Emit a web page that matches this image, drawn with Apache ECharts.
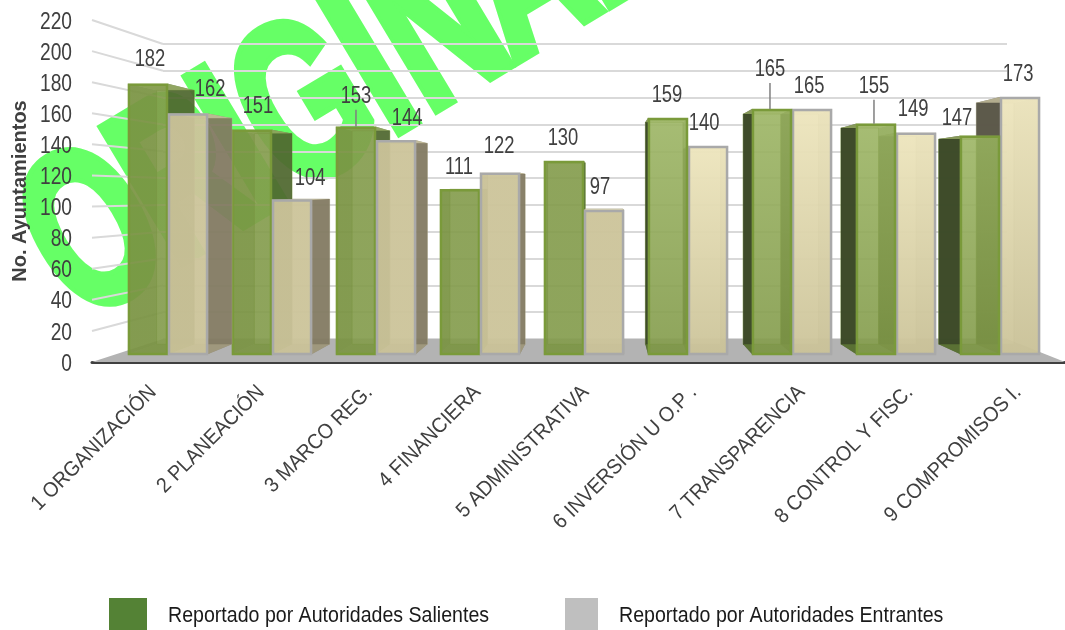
<!DOCTYPE html>
<html>
<head>
<meta charset="utf-8">
<title>Ayuntamientos</title>
<script src="https://cdn.jsdelivr.net/npm/echarts@6/dist/echarts.min.js"></script>
<style>
    html, body { margin: 0; padding: 0; background: #fff; }
    #main { width: 1065px; height: 630px; }
</style>
</head>
<body>
<div id="main"></div>
<script>
var categories = ['1 ORGANIZACIÓN', '2 PLANEACIÓN', '3 MARCO REG.', '4 FINANCIERA', '5 ADMINISTRATIVA', '6 INVERSIÓN U O.P .', '7 TRANSPARENCIA', '8 CONTROL Y FISC.', '9 COMPROMISOS I.'];
var salientes = [182, 151, 153, 111, 130, 159, 165, 155, 147];
var entrantes = [162, 104, 144, 122, 97, 140, 165, 149, 173];
var yTicks = [0, 20, 40, 60, 80, 100, 120, 140, 160, 180, 200, 220];
var nameSalientes = 'Reportado por Autoridades Salientes';
var nameEntrantes = 'Reportado por Autoridades Entrantes';

// the three planes of the fake 3d box: axis frame, back wall, front of the bars
var frameGrid = { left: 92, top: 20, width: 973, height: 342 };
var wallGrid = { left: 163, top: 44, width: 844, height: 295 };
var barGrid = { left: 116, top: 27.3, width: 936, height: 326.7 };

// vanishing point and how far back a bar's rear face sits
var vpX = 605, vpY = 192, depth = 0.94;

// label offset from the top centre of each bar, moved by hand like in the original
var offsetSalientes = [[2, -24], [6, -23], [0, -30], [-1, -22], [-1, -22], [-1, -22], [-2, -39], [-2, -37], [-23, -17]];
var offsetEntrantes = [[22, -24], [18, -21], [11, -22], [-1, -26], [-4, -22], [-4, -22], [-3, -22], [-3, -23], [-2, -22]];
var leaderFlags = [false, false, true, false, false, false, true, true, false];

// watermark letters, placed one by one along the rotated baseline
var stampLetters = ['O', 'R', 'I', 'G', 'I', 'N', 'A', 'L'];
var stampAlong = [-40, 65, 130, 207, 284.6, 361, 461, 555];
var stampAcross = 256;
var stampAngle = 31 * Math.PI / 180;

// the original text is squeezed sideways, no narrow font here so scale it
var fontFamily = '"Liberation Sans", sans-serif';
var squeeze = 0.8;
var chart = echarts.init(document.getElementById('main'));

function back(p) {
    return [vpX + (p[0] - vpX) * depth, vpY + (p[1] - vpY) * depth];
}

function poly(points, fill, stroke, z2) {
    return {
        type: 'polygon',
        z2: z2,
        shape: { points: points },
        style: { fill: fill, stroke: stroke || null, lineWidth: stroke ? 1 : 0 }
    };
}

function barRenderer(pal, side, offsets) {
    return function (params, api) {
        var i = api.value(0);
        var val = api.value(1);
        var center = api.coord([i, 0]);
        var top = api.coord([i, val]);
        var w = api.size([1, 0])[0] * 0.385;
        var x0 = side < 0 ? center[0] - w : center[0];
        var x1 = x0 + w;
        var yT = top[1], yB = center[1];
        var rightOfVp = x0 > vpX;
        // left of the vanishing point green goes under the beige, right of it over
        var base = 10 + (side < 0 ? (rightOfVp ? 10 : 0) : (rightOfVp ? 0 : 10));

        var tl = [x0, yT], tr = [x1, yT], bl = [x0, yB], br = [x1, yB];
        var tlb = back(tl), trb = back(tr), blb = back(bl), brb = back(br);
        var shine = i >= 5;
        var frontFill = new echarts.graphic.LinearGradient(0, 0, 0, 1, [
            { offset: 0, color: shine ? pal.frontTop : pal.front },
            { offset: 1, color: pal.front }
        ]);
        var kids = [
            poly([tlb, trb, brb, blb], pal.back, pal.edge, base),
            poly([tl, tlb, blb, bl], rightOfVp ? pal.sideLeft : pal.inner, null, base + 1),
            poly([tr, trb, brb, br], rightOfVp ? pal.inner : pal.sideRight, null, base + 1),
            poly([tl, tr, trb, tlb], pal.top, null, base + 1),
            poly([bl, br, brb, blb], pal.bottom, null, base + 1),
            {
                type: 'rect',
                z2: base + 2,
                shape: { x: x0 + 1, y: yT + 1, width: w - 2, height: yB - yT - 1 },
                style: { fill: frontFill, stroke: pal.stroke, lineWidth: 2.5 }
            }
        ];
        var off = offsets[i];
        var lx = (x0 + x1) / 2 + off[0], ly = yT + off[1];
        kids.push({
            type: 'text',
            z2: 60,
            x: lx,
            y: ly,
            scaleX: squeeze,
            style: { text: String(val), font: '23px ' + fontFamily, fill: '#404040', align: 'center', verticalAlign: 'middle' }
        });
        if (side < 0 && leaderFlags[i]) {
            kids.push({
                type: 'line',
                z2: 59,
                shape: { x1: lx, y1: ly + 13, x2: lx, y2: yT },
                style: { stroke: '#7f7f7f', lineWidth: 1.5 }
            });
        }
        return { type: 'group', children: kids };
    };
}

var greenPal = {
    front: 'rgba(125,150,68,0.8)', frontTop: 'rgba(155,180,98,0.8)',
    back: 'rgba(175,195,130,0.55)', edge: 'rgba(110,140,50,0.6)',
    sideRight: 'rgba(70,95,40,0.85)', sideLeft: 'rgba(55,68,35,0.95)', inner: 'rgba(105,132,60,0.65)',
    top: 'rgba(165,185,110,0.7)', bottom: 'rgba(110,140,60,0.6)', stroke: '#7a9a3a'
};
var beigePal = {
    front: 'rgba(203,195,153,0.9)', frontTop: 'rgba(238,230,190,0.9)',
    back: 'rgba(225,218,180,0.6)', edge: 'rgba(170,165,135,0.6)',
    sideRight: 'rgba(120,112,88,0.85)', sideLeft: 'rgba(85,82,68,0.95)', inner: 'rgba(175,168,135,0.6)',
    top: 'rgba(215,208,170,0.7)', bottom: 'rgba(180,172,140,0.6)', stroke: '#a9a9a9'
};

function pairs(values) {
    return values.map(function (v, i) { return [i, v]; });
}

function legendText(text, x) {
    return {
        type: 'text',
        silent: true,
        x: x,
        y: 616,
        scaleX: 0.89,
        style: { text: text, font: '22px ' + fontFamily, fill: '#1a1a1a', align: 'left', verticalAlign: 'middle' }
    };
}

function stampElement(letter, i) {
    var c = Math.cos(stampAngle), s = Math.sin(stampAngle);
    var t = stampAlong[i];
    return {
        type: 'text',
        z: -10,
        silent: true,
        x: t * c + stampAcross * s,
        y: -t * s + stampAcross * c,
        rotation: stampAngle,
        scaleX: 0.66,
        style: { text: letter, font: 'bold 225px ' + fontFamily, fill: '#66ff66', stroke: '#66ff66', lineWidth: 11, lineJoin: 'miter', align: 'center', verticalAlign: 'middle' }
    };
}

var option = {
    animation: false,
    textStyle: { fontFamily: fontFamily },
    graphic: stampLetters.map(stampElement).concat([
        legendText(nameSalientes, 168),
        legendText(nameEntrantes, 619)
    ]),
    grid: [
        { left: frameGrid.left, top: frameGrid.top, width: frameGrid.width, height: frameGrid.height, outerBoundsMode: 'none' },
        { left: wallGrid.left, top: wallGrid.top, width: wallGrid.width, height: wallGrid.height, outerBoundsMode: 'none' },
        { left: barGrid.left, top: barGrid.top, width: barGrid.width, height: barGrid.height, outerBoundsMode: 'none' }
    ],
    xAxis: [
        {
            gridIndex: 0, type: 'category', data: categories,
            axisTick: { show: false },
            axisLine: { lineStyle: { color: '#404040', width: 3 } },
            axisLabel: { show: false }
        },
        { gridIndex: 1, type: 'category', data: categories, show: false },
        { gridIndex: 2, type: 'category', data: categories, show: false }
    ],
    yAxis: [
        {
            gridIndex: 0, type: 'value', min: 0, max: 220, interval: 20,
            name: 'No. Ayuntamientos', nameLocation: 'middle', nameGap: 62,
            nameTextStyle: { fontWeight: 'bold', fontSize: 20, color: '#404040' },
            axisLine: { show: false }, axisTick: { show: false }, splitLine: { show: false },
            axisLabel: { show: false }
        },
        {
            gridIndex: 1, type: 'value', min: 0, max: 220, interval: 20,
            axisLine: { show: false }, axisTick: { show: false }, axisLabel: { show: false },
            splitLine: { lineStyle: { color: '#d9d9d9', width: 2 } }
        },
        {
            gridIndex: 2, type: 'value', min: 0, max: 220, interval: 20, show: false
        }
    ],
    legend: [
        {
            left: 109, top: 598, padding: 0, itemWidth: 38, itemHeight: 32, icon: 'rect', data: [nameSalientes],
            formatter: function () { return ''; }
        },
        {
            left: 565, top: 598, padding: 0, itemWidth: 33, itemHeight: 32, icon: 'rect', data: [nameEntrantes],
            formatter: function () { return ''; }
        }
    ],
    series: [
        {
            // tick labels and side wall lines from the axis frame back to the wall
            type: 'custom', xAxisIndex: 0, yAxisIndex: 0, z: 1, silent: true,
            data: yTicks.map(function (t) { return [0, t]; }),
            renderItem: function (params, api) {
                var v = api.value(1);
                var y0 = api.coord([0, v])[1];
                var y1 = chart.convertToPixel({ yAxisIndex: 1 }, v);
                var kids = [{
                    type: 'text',
                    x: params.coordSys.x - 20,
                    y: y0 + 2,
                    scaleX: squeeze,
                    style: { text: String(v), font: '24px ' + fontFamily, fill: '#404040', align: 'right', verticalAlign: 'middle' }
                }];
                if (v !== 0) {
                    kids.push({
                        type: 'line',
                        shape: { x1: params.coordSys.x, y1: y0, x2: wallGrid.left, y2: y1 },
                        style: { stroke: '#d9d9d9', lineWidth: 2 }
                    });
                }
                return { type: 'group', children: kids };
            }
        },
        {
            // floor
            type: 'custom', xAxisIndex: 0, yAxisIndex: 0, z: 1, silent: true,
            data: [[0, 0]],
            renderItem: function (params, api) {
                var yF = api.coord([0, 0])[1];
                var yW = chart.convertToPixel({ yAxisIndex: 1 }, 0);
                var c = params.coordSys;
                return {
                    type: 'polygon',
                    shape: { points: [[c.x, yF], [wallGrid.left, yW], [wallGrid.left + wallGrid.width, yW], [c.x + c.width, yF]] },
                    style: { fill: '#b3b3b3' }
                };
            }
        },
        {
            // category labels, squeezed and turned 45 degrees
            type: 'custom', xAxisIndex: 0, yAxisIndex: 0, z: 2, silent: true,
            data: pairs(categories.map(function () { return 0; })),
            renderItem: function (params, api) {
                var p = api.coord([api.value(0), 0]);
                return {
                    type: 'text',
                    x: p[0] + 7,
                    y: p[1] + 27,
                    rotation: Math.PI / 4,
                    scaleX: 0.93,
                    style: { text: categories[api.value(0)], font: '21px ' + fontFamily, fill: '#404040', align: 'right', verticalAlign: 'middle' }
                };
            }
        },
        {
            name: nameSalientes, type: 'custom', xAxisIndex: 2, yAxisIndex: 2, z: 3, silent: true,
            itemStyle: { color: '#548235' },
            data: pairs(salientes),
            renderItem: barRenderer(greenPal, -1, offsetSalientes)
        },
        {
            name: nameEntrantes, type: 'custom', xAxisIndex: 2, yAxisIndex: 2, z: 3, silent: true,
            itemStyle: { color: '#bfbfbf' },
            data: pairs(entrantes),
            renderItem: barRenderer(beigePal, 1, offsetEntrantes)
        }
    ]
};
chart.setOption(option);
</script>
</body>
</html>
